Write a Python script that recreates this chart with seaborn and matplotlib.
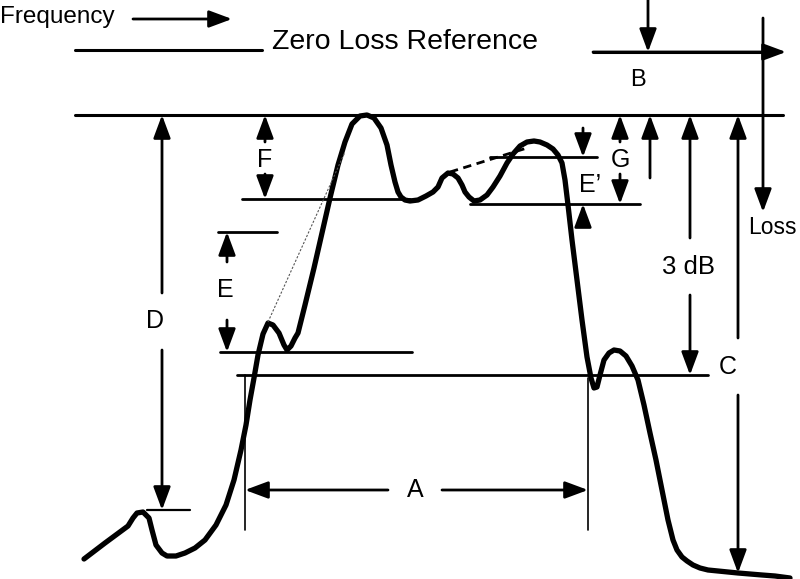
import matplotlib
matplotlib.use('Agg')
import matplotlib.pyplot as plt
import seaborn as sns
import pandas as pd

# filter response curve (x right, loss downwards)
curve_x = [84, 105, 128, 133, 137, 143, 149, 152, 156, 162, 167, 176, 185, 195, 205, 216, 226,
           234, 241, 246, 250, 254, 258, 263, 268, 273, 279, 284, 287, 291, 295, 298, 305, 314,
           322, 330, 338, 345, 352, 360, 367, 374, 381, 387, 391, 395, 398, 401, 405, 410, 418,
           426, 433, 438, 442, 448, 453, 458, 462, 465, 469, 474, 480, 487, 493, 500, 507, 513,
           520, 527, 534, 540, 547, 553, 558, 562, 565, 568, 572, 577, 582, 587, 591, 594, 597,
           600, 604, 609, 614, 620, 626, 632, 638, 644, 650, 656, 662, 668, 673, 677, 682, 687,
           693, 700, 708, 718, 728, 738, 750, 762, 775, 790]
curve_y = [559, 543, 526, 518, 513, 512, 518, 530, 545, 553, 556, 556, 553, 548, 540, 525, 505,
           480, 450, 425, 400, 378, 355, 334, 323, 325, 333, 345, 350, 346, 338, 333, 305, 268,
           233, 198, 165, 142, 124, 116, 115, 118, 128, 145, 165, 182, 192, 197, 200, 201, 200,
           196, 192, 187, 178, 173, 174, 178, 185, 192, 197, 201, 200, 195, 187, 176, 163, 154,
           146, 142, 141, 142, 145, 149, 155, 163, 180, 205, 240, 280, 320, 357, 378, 388, 387,
           375, 360, 353, 350, 351, 356, 366, 380, 405, 433, 460, 490, 520, 540, 550, 557, 561,
           565, 568, 570, 571, 572, 573, 574, 575, 576, 578]

# horizontal reference lines: (y, x start, x end, width)
hline_y = [50, 52, 115, 199, 232, 352, 375, 157, 204, 510]
hline_x0 = [75, 593, 75, 242, 218, 220, 237, 490, 470, 147]
hline_x1 = [262, 772, 783, 410, 277, 412, 708, 597, 640, 190]
hline_w = [2.2, 2.2, 2.2, 2.0, 2.0, 2.0, 2.0, 2.0, 2.0, 1.6]

# A band edges
vline_x = [245, 588]
vline_y0 = [375, 378]
vline_y1 = [530, 530]

# arrows: (tail x, tail y, head x, head y)
arrows = [
    (133, 19, 232, 19),     # frequency
    (593, 52, 786, 52),     # axis arrow
    (648, 0, 648, 52),      # B
    (763, 18, 763, 212),    # loss
    (162, 293, 162, 115),   # D up
    (162, 350, 162, 510),   # D down
    (265, 142, 265, 115),   # F up
    (265, 174, 265, 199),   # F down
    (227, 262, 227, 232),   # E up
    (227, 320, 227, 352),   # E down
    (583, 128, 583, 157),   # E' down
    (583, 222, 583, 204),   # E' up
    (620, 142, 620, 115),   # G up
    (620, 174, 620, 204),   # G down
    (650, 178, 650, 115),   # extra up
    (690, 238, 690, 115),   # 3 dB up
    (690, 295, 690, 375),   # 3 dB down
    (738, 338, 738, 115),   # C up
    (738, 395, 738, 573),   # C down
    (388, 490, 245, 490),   # A left
    (442, 490, 588, 490),   # A right
]

labels = ['Frequency', 'Zero Loss Reference', 'B', 'Loss', 'D', 'F', 'E', "E’", 'G',
          '3 dB', 'C', 'A']
label_x = [0, 405, 638, 748, 155, 265, 225, 590, 620, 688, 728, 415]
label_y = [17, 42, 80, 228, 321, 160, 290, 185, 160, 267, 367, 490]
label_size = [17.5, 20.5, 17, 16.5, 18, 18, 18, 18, 18, 18.5, 18, 18]
label_ha = ['left', 'center', 'center', 'left', 'center', 'center', 'center', 'center',
            'center', 'center', 'center', 'center']

sns.set_style('white')
plt.rcParams['font.family'] = ['Liberation Sans', 'DejaVu Sans']

fig = plt.figure(figsize=(8, 5.79), dpi=100)
ax = fig.add_axes([0, 0, 1, 1])

df = pd.DataFrame({'x': curve_x, 'y': curve_y})
sns.lineplot(data=df, x='x', y='y', sort=False, color='black', lw=3.8, ax=ax,
             solid_capstyle='round', solid_joinstyle='round')

for y, x0, x1, w in zip(hline_y, hline_x0, hline_x1, hline_w):
    ax.plot([x0, x1], [y, y], color='black', lw=w)
for x, y0, y1 in zip(vline_x, vline_y0, vline_y1):
    ax.plot([x, x], [y0, y1], color='black', lw=1.2)

# slope construction lines
ax.plot([268, 345], [322, 152], color='#555555', lw=0.8, ls=(0, (2, 1.5)))
ax.plot([450, 527], [172, 148], color='black', lw=2.0, ls=(0, (3, 2)))

for x0, y0, x1, y1 in arrows:
    ax.annotate('', xy=(x1, y1), xytext=(x0, y0),
                arrowprops=dict(arrowstyle='-|>,head_length=14,head_width=5.2',
                                mutation_scale=1, color='black', lw=2.0,
                                shrinkA=0, shrinkB=0))

for t, x, y, s, ha in zip(labels, label_x, label_y, label_size, label_ha):
    ax.text(x, y, t, fontsize=s, ha=ha, va='center', color='black')

ax.set_xlim(0, 800)
ax.set_ylim(579, 0)
ax.set_axis_off()

fig.savefig('out.png', dpi=100)
